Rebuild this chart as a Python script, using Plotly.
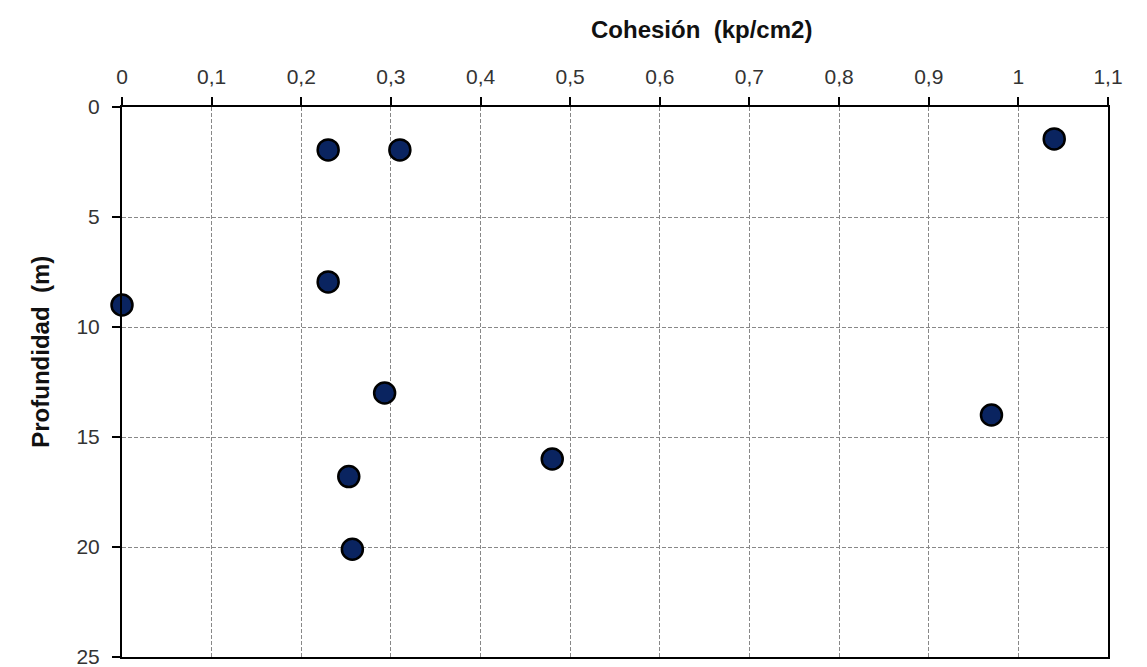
import plotly.graph_objects as go

cohesion = [1.04, 0.23, 0.31, 0.23, 0.0, 0.293, 0.97, 0.48, 0.253, 0.257]
profundidad = [1.45, 1.95, 1.95, 7.95, 9.0, 13.0, 14.0, 16.0, 16.8, 20.1]
x_ticks = [0, 0.1, 0.2, 0.3, 0.4, 0.5, 0.6, 0.7, 0.8, 0.9, 1.0, 1.1]
y_ticks = [0, 5, 10, 15, 20, 25]

fig = go.Figure()
fig.add_trace(go.Scatter(
    x=cohesion, y=profundidad, mode="markers",
    marker=dict(size=21, color="#0a2460", line=dict(color="black", width=2.5)),
    showlegend=False, cliponaxis=False,
))

axis_font = dict(family="Liberation Sans, Arial, sans-serif", size=21, color="#333333")
title_font = dict(family="Liberation Sans, Arial, sans-serif", size=24, color="#111111")
fig.update_layout(
    width=1147, height=667,
    margin=dict(l=114, r=47, t=99, b=18),
    paper_bgcolor="white", plot_bgcolor="white",
    separators=", ",
    xaxis=dict(
        side="top", range=[0, 1.1], tickvals=x_ticks, automargin=False,
        showline=True, linecolor="black", linewidth=2, mirror=True,
        ticks="outside", ticklen=8, tickcolor="black", tickwidth=1.5,
        ticklabelstandoff=5,
        showgrid=True, gridcolor="#888888", griddash="4px,2px", gridwidth=1,
        zeroline=False, tickfont=axis_font,
    ),
    yaxis=dict(
        range=[25, 0], tickvals=y_ticks, automargin=False,
        showline=True, linecolor="black", linewidth=2, mirror=True,
        ticks="outside", ticklen=8, tickcolor="black", tickwidth=1.5,
        ticklabelstandoff=8,
        showgrid=True, gridcolor="#888888", griddash="4px,2px", gridwidth=1,
        zeroline=False, tickfont=axis_font,
    ),
    annotations=[
        dict(text="<b>Cohesión  (kp/cm2)</b>", xref="paper", yref="paper",
             x=0.588, y=1.0, yshift=78, xanchor="center", yanchor="middle",
             showarrow=False, font=title_font),
        dict(text="<b>Profundidad  (m)</b>", xref="paper", yref="paper",
             x=0.0, xshift=-81, y=0.555, xanchor="center", yanchor="middle", textangle=-90,
             showarrow=False, font=title_font),
    ],
)

fig.write_html("out.html")
